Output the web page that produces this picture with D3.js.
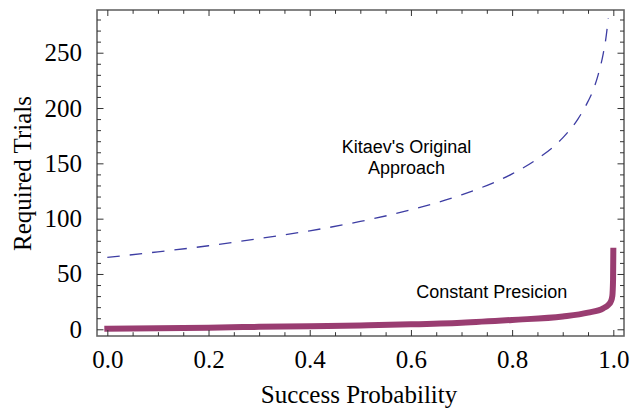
<!DOCTYPE html>
<html>
<head>
<meta charset="utf-8">
<script src="https://cdn.jsdelivr.net/npm/d3@7"></script>
<style>
  html, body { margin: 0; padding: 0; background: #fff; }
  svg { display: block; }
</style>
</head>
<body>
<svg id="chart" width="630" height="409"></svg>
<script>
// ---- data ----
const probKitaev   = [0, 0.1, 0.2, 0.3, 0.4, 0.5, 0.6, 0.7, 0.8, 0.85, 0.9, 0.93, 0.95, 0.96, 0.97, 0.98, 0.985, 0.99];
const trialsKitaev = [65, 70, 75.5, 82, 89, 97.5, 108, 121.5, 140.5, 154, 173, 190, 206, 216, 230, 249, 262, 281];

const probConst   = [0, 0.1, 0.2, 0.3, 0.4, 0.5, 0.6, 0.7, 0.8, 0.9, 0.95, 0.98, 0.99, 0.995, 0.998, 0.9995, 1.0];
const trialsConst = [0.5, 1, 1.5, 2.2, 2.8, 3.5, 4.5, 6, 8.5, 11.5, 15, 19, 22, 25, 30, 45, 71];

const xTickLabels = [0, 0.2, 0.4, 0.6, 0.8, 1.0];
const yTickLabels = [0, 50, 100, 150, 200, 250];
const xMinorTicks = [0.05, 0.1, 0.15, 0.25, 0.3, 0.35, 0.45, 0.5, 0.55, 0.65, 0.7, 0.75, 0.85, 0.9, 0.95];
const yMinorTicks = [10, 20, 30, 40, 60, 70, 80, 90, 110, 120, 130, 140, 160, 170, 180, 190, 210, 220, 230, 240, 260, 270, 280];

const xLabel = "Success Probability";
const yLabel = "Required Trials";
const kitaevLabel = ["Kitaev's Original", "Approach"];
const constLabel = "Constant Presicion";

// ---- layout ----
const svg = d3.select("#chart");
const L = 97, R = 624, T = 10, B = 336;

const x = d3.scaleLinear().domain([-0.0204, 1.0211]).range([L, R]);
const y = d3.scaleLinear().domain([-6.06, 288.6]).range([B, T]);

svg.append("defs").append("clipPath").attr("id", "plotclip")
  .append("rect").attr("x", L).attr("y", T).attr("width", R - L).attr("height", B - T);

const serif = "'Liberation Serif', 'Times New Roman', Times, serif";
const sans = "'Liberation Sans', Arial, Helvetica, sans-serif";

// curves
const plot = svg.append("g").attr("clip-path", "url(#plotclip)");

const kData = probKitaev.map((p, i) => [p, trialsKitaev[i]]);
const cData = probConst.map((p, i) => [p, trialsConst[i]]);

const line = d3.line().x(d => x(d[0])).y(d => y(d[1])).curve(d3.curveMonotoneX);

plot.append("path").datum(kData)
  .attr("d", line)
  .attr("fill", "none")
  .attr("stroke", "#3d3da3")
  .attr("stroke-width", 1.3)
  .attr("stroke-dasharray", "12.5,10");

plot.append("path").datum(cData)
  .attr("d", line)
  .attr("fill", "none")
  .attr("stroke", "#993d71")
  .attr("stroke-width", 6)
  .attr("stroke-linecap", "square")
  .attr("stroke-linejoin", "round");

// frame
svg.append("rect").attr("x", L).attr("y", T).attr("width", R - L).attr("height", B - T)
  .attr("fill", "none").attr("stroke", "#666").attr("stroke-width", 1.6);

// ticks via d3 axes
function styleAxis(g) {
  g.select(".domain").remove();
  g.selectAll(".tick line").attr("stroke", "#333").attr("stroke-width", 1);
}

// bottom major
svg.append("g").attr("transform", `translate(0,${B})`)
  .call(d3.axisBottom(x).tickValues(xTickLabels).tickSizeInner(-6).tickSizeOuter(0).tickPadding(14)
    .tickFormat(d3.format(".1f")))
  .call(styleAxis)
  .call(g => g.selectAll("text").attr("font-family", serif).attr("font-size", 25).attr("fill", "#000"));
// bottom minor
svg.append("g").attr("transform", `translate(0,${B})`)
  .call(d3.axisBottom(x).tickValues(xMinorTicks).tickSizeInner(-3.8).tickSizeOuter(0).tickFormat(""))
  .call(styleAxis);
// top major/minor
svg.append("g").attr("transform", `translate(0,${T})`)
  .call(d3.axisTop(x).tickValues(xTickLabels).tickSizeInner(-6).tickSizeOuter(0).tickFormat(""))
  .call(styleAxis);
svg.append("g").attr("transform", `translate(0,${T})`)
  .call(d3.axisTop(x).tickValues(xMinorTicks).tickSizeInner(-3.8).tickSizeOuter(0).tickFormat(""))
  .call(styleAxis);

// left major
svg.append("g").attr("transform", `translate(${L},0)`)
  .call(d3.axisLeft(y).tickValues(yTickLabels).tickSizeInner(-6.5).tickSizeOuter(0).tickPadding(15))
  .call(styleAxis)
  .call(g => g.selectAll("text").attr("font-family", serif).attr("font-size", 25).attr("fill", "#000"));
svg.append("g").attr("transform", `translate(${L},0)`)
  .call(d3.axisLeft(y).tickValues(yMinorTicks).tickSizeInner(-4).tickSizeOuter(0).tickFormat(""))
  .call(styleAxis);
// right
svg.append("g").attr("transform", `translate(${R},0)`)
  .call(d3.axisRight(y).tickValues(yTickLabels).tickSizeInner(-6.5).tickSizeOuter(0).tickFormat(""))
  .call(styleAxis);
svg.append("g").attr("transform", `translate(${R},0)`)
  .call(d3.axisRight(y).tickValues(yMinorTicks).tickSizeInner(-4).tickSizeOuter(0).tickFormat(""))
  .call(styleAxis);

// axis labels
svg.append("text").attr("x", 359).attr("y", 403)
  .attr("text-anchor", "middle").attr("font-family", serif).attr("font-size", 25).attr("fill", "#000")
  .text(xLabel);
svg.append("text").attr("transform", "translate(31,173.5) rotate(-90)")
  .attr("text-anchor", "middle").attr("font-family", serif).attr("font-size", 25).attr("fill", "#000")
  .text(yLabel);

// annotations
const kt = svg.append("text").attr("text-anchor", "middle").attr("font-family", sans)
  .attr("font-size", 18).attr("fill", "#000");
kt.append("tspan").attr("x", 406.5).attr("y", 152.7).text(kitaevLabel[0]);
kt.append("tspan").attr("x", 406.5).attr("y", 173.5).text(kitaevLabel[1]);

svg.append("text").attr("x", 491.7).attr("y", 297.5)
  .attr("text-anchor", "middle").attr("font-family", sans).attr("font-size", 18).attr("fill", "#000")
  .text(constLabel);
</script>
</body>
</html>
